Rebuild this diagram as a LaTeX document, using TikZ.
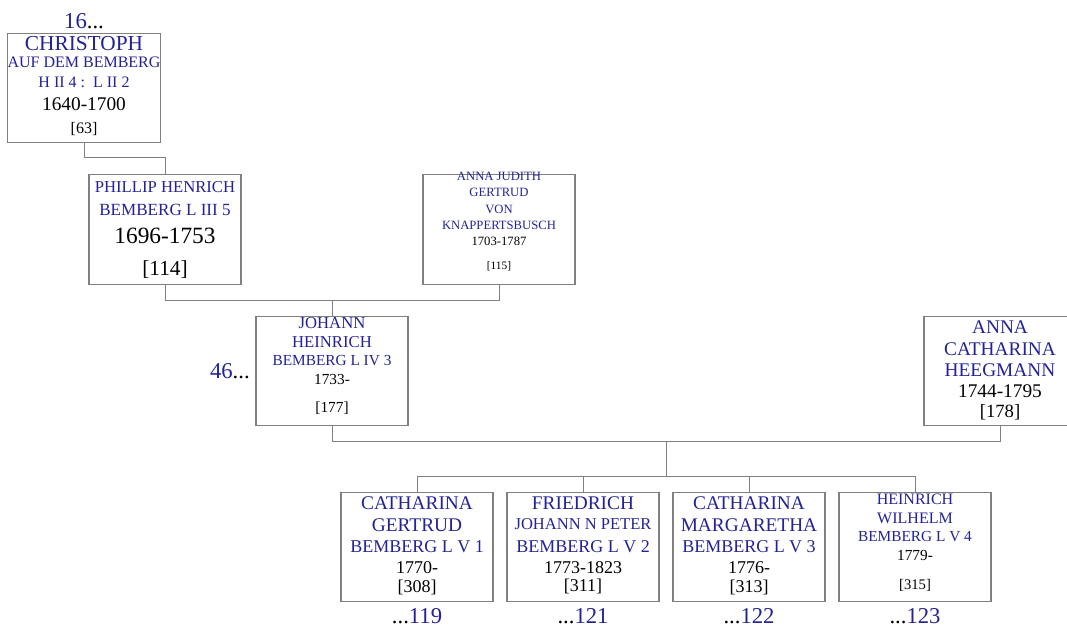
\documentclass[tikz,border=0pt]{standalone}
\usepackage{fontspec}
\setmainfont{Liberation Serif}
\usepackage{tikz}
\usetikzlibrary{positioning, calc}
\definecolor{myblue}{RGB}{35,35,150}
\definecolor{mygray}{RGB}{128,128,128}
\newcommand{\pname}[2]{\smash{\fontsize{#1}{#1}\selectfont\color{myblue}#2}}
\newcommand{\pdate}[2]{\smash{\fontsize{#1}{#1}\selectfont #2}}
\tikzset{
  person/.style={rectangle, draw=mygray, fill=white,
    minimum width=114pt, minimum height=82pt, inner sep=0pt, outer sep=0pt,
    align=center, font=\fontsize{10}{0}\selectfont, line width=0.8pt},
  link/.style={draw=mygray, line width=0.75pt},
  more/.style={font=\fontsize{17}{17}\selectfont, text=myblue, inner sep=0pt}
}

\begin{document}
\begin{tikzpicture}[x=0.75pt, y=-0.75pt, node distance=12pt and 10.5pt]
  \useasboundingbox (0,0) rectangle (1067,631);
  \node[person] (christoph) at (84,88) {\pname{16}{CHRISTOPH}\rule{0pt}{6.2pt}\\[12.75pt]
    \pname{12}{AUF DEM BEMBERG}\\[15pt]
    \pname{12}{H II 4 :\ \ L II 2}\\[16.7pt]
    \pdate{14.5}{1640-1700}\\[17.5pt]
    \pdate{12}{[63]}};
  \node[person] (phil) at (165,229.5) {\pname{12.5}{PHILLIP HENRICH}\rule{0pt}{7.3pt}\\[16.7pt]
    \pname{12.8}{BEMBERG L III 5}\\[21.2pt]
    \pdate{17.5}{1696-1753}\\[24.5pt]
    \pdate{16}{[114]}};
  \node[person, right=136.5pt of phil] (judith) {\pname{9.5}{ANNA JUDITH}\\[12pt]
    \pname{9.5}{GERTRUD}\\[12.5pt]
    \pname{9.5}{VON}\\[11.8pt]
    \pname{9.5}{KNAPPERTSBUSCH}\\[12pt]
    \pdate{9.5}{1703-1787}\\[18.2pt]
    \pdate{8.5}{[115]}\rule[-6.75pt]{0pt}{6.75pt}};
  \coordinate (pj) at ($(phil.south)!0.5!(judith.south) + (0,16)$);
  \node[person, below=12pt of pj] (johann) {\pname{12.5}{JOHANN}\\[13.8pt]
    \pname{12.5}{HEINRICH}\\[13.7pt]
    \pname{11.5}{BEMBERG L IV 3}\\[14.25pt]
    \pdate{11.5}{1733-}\\[21.2pt]
    \pdate{11.5}{[177]}};
  \node[person, right=387pt of johann] (annac) {\pname{14.5}{ANNA}\rule{0pt}{6.9pt}\\[16.3pt]
    \pname{14.5}{CATHARINA}\\[15.5pt]
    \pname{14.5}{HEEGMANN}\\[15.75pt]
    \pdate{14.5}{1744-1795}\\[15pt]
    \pdate{14}{[178]}};
  \coordinate (jm) at ($(johann.south)!0.5!(annac.south) + (0,16)$);
  \coordinate (bus) at ($(jm) + (0,35)$);
  \node[person, below left=12pt and 5.25pt of bus] (kid2) {\pname{14.5}{FRIEDRICH}\rule{0pt}{5pt}\\[15.2pt]
    \pname{12.4}{JOHANN N PETER}\\[17.5pt]
    \pname{13.5}{BEMBERG L V 2}\\[15.5pt]
    \pdate{13.5}{1773-1823}\\[14pt]
    \pdate{13.5}{[311]}};
  \node[person, below right=12pt and 5.25pt of bus] (kid3) {\pname{14.5}{CATHARINA}\rule{0pt}{5pt}\\[17pt]
    \pname{14.5}{MARGARETHA}\\[15.75pt]
    \pname{13.5}{BEMBERG L V 3}\\[15.5pt]
    \pdate{13.5}{1776-}\\[14pt]
    \pdate{13.5}{[313]}};
  \node[person, left=of kid2] (kid1) {\pname{14.5}{CATHARINA}\rule{0pt}{5pt}\\[17pt]
    \pname{14.5}{GERTRUD}\\[15.75pt]
    \pname{13.5}{BEMBERG L V 1}\\[15.5pt]
    \pdate{13.5}{1770-}\\[14pt]
    \pdate{13.5}{[308]}};
  \node[person, right=of kid3] (kid4) {\pname{12}{HEINRICH}\\[14pt]
    \pname{12}{WILHELM}\\[13.7pt]
    \pname{11.5}{BEMBERG L V 4}\\[14.25pt]
    \pdate{11.5}{1779-}\\[22pt]
    \pdate{11}{[315]}};

  \node[more, above=3.5pt of christoph] (up16) {16\textcolor{black}{...}};
  \node[more, left=4.5pt of johann] (up46) {46\textcolor{black}{...}};
  \foreach \k/\n in {kid1/119, kid2/121, kid3/122, kid4/123}
    \node[more, below=4.5pt of \k] (dn\n) {\textcolor{black}{...}\n};

  \draw[link] (christoph.south) -- ++(0,15) -| (phil.north);
  \draw[link] (phil.south) |- (pj) -| (judith.south);
  \draw[link] (pj) -- (johann.north);
  \draw[link] (johann.south) |- (jm) -| (annac.south);
  \draw[link] (jm) -- (bus);
  \foreach \k in {kid1,kid2,kid3,kid4}
    \draw[link] (bus) -| (\k.north);
\end{tikzpicture}
\end{document}
